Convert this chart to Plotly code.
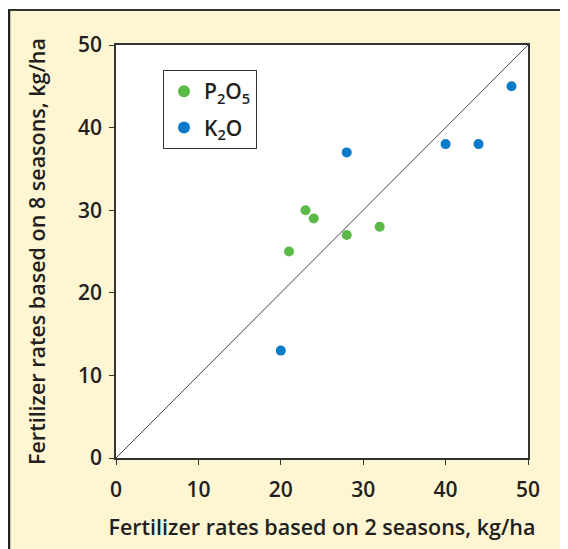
import plotly.graph_objects as go

p_x = [21, 23, 24, 28, 32]
p_y = [25, 30, 29, 27, 28]
k_x = [20, 28, 40, 44, 48]
k_y = [13, 37, 38, 38, 45]
ticks = [0, 10, 20, 30, 40, 50]

# page has an 8px body margin; figure size chosen so the page matches 568x549
OFF = 8
W, H = 568 - OFF, 549 - OFF
L, R, T, B = 116 - OFF, 40, 45 - OFF, 91
pw, ph = W - L - R, H - T - B

def px(x):
    return (x - OFF - L) / pw

def py(y):
    return (H - B - (y - OFF)) / ph

cream = "#FEF5D3"
font = "Open Sans"
txt = "#231F20"

fig = go.Figure()
fig.add_trace(go.Scatter(x=[0, 50], y=[0, 50], mode="lines",
                         line=dict(color="#444", width=1), showlegend=False, hoverinfo="skip"))
fig.add_trace(go.Scatter(x=p_x, y=p_y, mode="markers", name="P<sub>2</sub>O<sub>5</sub>",
                         legendgroup="p", marker=dict(color="#5BB947", size=10)))
fig.add_trace(go.Scatter(x=k_x, y=k_y, mode="markers", name="K<sub>2</sub>O",
                         legendgroup="k", marker=dict(color="#0A7BC8", size=10)))

axis_common = dict(range=[0, 50], tickvals=ticks, showgrid=False, zeroline=False,
                   showline=True, linecolor="#333", linewidth=1.5, mirror=True,
                   ticks="outside", ticklen=5, tickcolor="#333", tickwidth=1.2,
                   tickfont=dict(family=font, size=21, color=txt, weight=600))

fig.update_xaxes(**axis_common, ticklabelstandoff=7,
                 title=dict(text="Fertilizer rates based on 2 seasons, kg/ha",
                            font=dict(family=font, size=21.5, color=txt, weight=600), standoff=18))
fig.update_yaxes(**axis_common, ticklabelstandoff=3,
                 title=dict(text="Fertilizer rates based on 8 seasons, kg/ha",
                            font=dict(family=font, size=21.5, color=txt, weight=600), standoff=27))

shapes = [
    dict(type="rect", xref="paper", yref="paper", x0=px(-20), x1=px(W + 40), y0=py(-20), y1=py(10),
         fillcolor="white", line=dict(width=0), layer="above"),
    dict(type="line", xref="paper", yref="paper", x0=px(8), x1=px(W + 40), y0=py(10), y1=py(10),
         line=dict(color="#333", width=2), layer="above"),
    dict(type="line", xref="paper", yref="paper", x0=px(9), x1=px(9), y0=py(10), y1=py(H + 40),
         line=dict(color="#222", width=2.5), layer="above"),
]

fig.update_layout(
    width=W, height=H,
    margin=dict(l=L, r=R, t=T, b=B),
    paper_bgcolor=cream, plot_bgcolor="white",
    shapes=shapes,
    showlegend=True,
    legend=dict(x=px(163), y=py(70), xanchor="left", yanchor="top",
                bgcolor="white", bordercolor="#333", borderwidth=1,
                font=dict(family=font, size=21, color=txt, weight=600),
                itemsizing="constant", tracegroupgap=6, traceorder="grouped"),
)

fig.write_html("out.html")
